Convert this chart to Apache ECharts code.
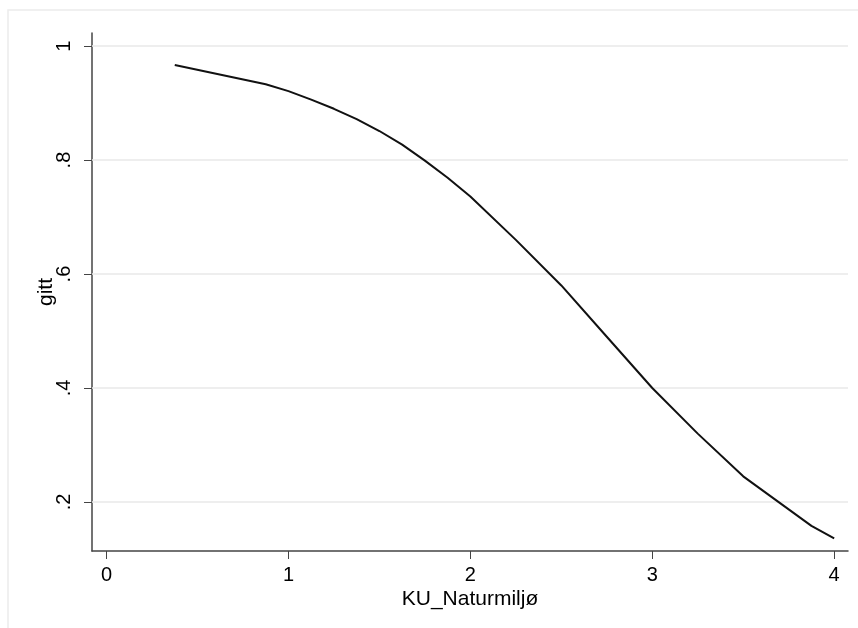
<!DOCTYPE html>
<html>
<head>
<meta charset="utf-8">
<script src="https://cdn.jsdelivr.net/npm/echarts@6/dist/echarts.min.js"></script>
<style>html,body{margin:0;padding:0;background:#fff;}#c{width:858px;height:628px;}</style>
</head>
<body>
<div id="c"></div>
<script>
var xValues = [0.375, 0.875, 1.0, 1.125, 1.25, 1.375, 1.5, 1.625, 1.75, 1.875, 2.0, 2.25, 2.5, 2.75, 3.0, 3.25, 3.5, 3.875, 4.0];
var yValues = [0.967, 0.933, 0.921, 0.906, 0.890, 0.872, 0.851, 0.827, 0.799, 0.769, 0.736, 0.660, 0.580, 0.490, 0.400, 0.320, 0.245, 0.158, 0.136];
var xTicks = [0, 1, 2, 3, 4];
var yTicks = [0.2, 0.4, 0.6, 0.8, 1];
var xTitle = 'KU_Naturmiljø';
var yTitle = 'gitt';

var font = '"Liberation Sans", Arial, Helvetica, sans-serif';
function fmt(v) { return String(v).replace(/^0\./, '.'); }

var chart = echarts.init(document.getElementById('c'), null, {renderer: 'canvas'});
chart.setOption({
  animation: false,
  backgroundColor: '#fff',
  graphic: [{
    type: 'rect', shape: {x: 8, y: 10, width: 900, height: 700},
    style: {fill: 'none', stroke: '#ececec', lineWidth: 1.5}, silent: true, z: -1
  }],
  grid: {left: 92, right: 10, top: 33, bottom: 77},
  xAxis: {
    type: 'value', min: -0.08, max: 4.076,
    name: xTitle, nameLocation: 'middle', nameGap: 38, nameMoveOverlap: false,
    nameTextStyle: {fontFamily: font, fontSize: 21, color: '#000'},
    axisLine: {show: true, onZero: false, lineStyle: {color: '#444', width: 1.5}},
    axisTick: {show: true, length: 8, customValues: xTicks, lineStyle: {color: '#444'}},
    axisLabel: {customValues: xTicks, fontFamily: font, fontSize: 20, color: '#000', margin: 14, formatter: fmt},
    splitLine: {show: false}
  },
  yAxis: {
    type: 'value', min: 0.114, max: 1.023,
    name: yTitle, nameLocation: 'middle', nameGap: 35, nameRotate: 90, nameMoveOverlap: false,
    nameTextStyle: {fontFamily: font, fontSize: 21, color: '#000'},
    axisLine: {show: true, onZero: false, lineStyle: {color: '#444', width: 1.5}},
    axisTick: {show: true, length: 8, customValues: yTicks, lineStyle: {color: '#444'}},
    axisLabel: {customValues: yTicks, rotate: 90, fontFamily: font, fontSize: 20, color: '#000', margin: 18, formatter: fmt},
    splitLine: {show: false}
  },
  series: [{
    type: 'line',
    data: xValues.map(function (x, i) { return [x, yValues[i]]; }),
    showSymbol: false, symbol: 'none',
    lineStyle: {color: '#111', width: 2},
    markLine: {
      silent: true, symbol: 'none', label: {show: false},
      lineStyle: {color: '#e8e8e8', width: 1.5, type: 'solid'},
      data: yTicks.map(function (v) { return {yAxis: v}; }),
      z: 1
    },
    z: 3
  }]
});
</script>
</body>
</html>
